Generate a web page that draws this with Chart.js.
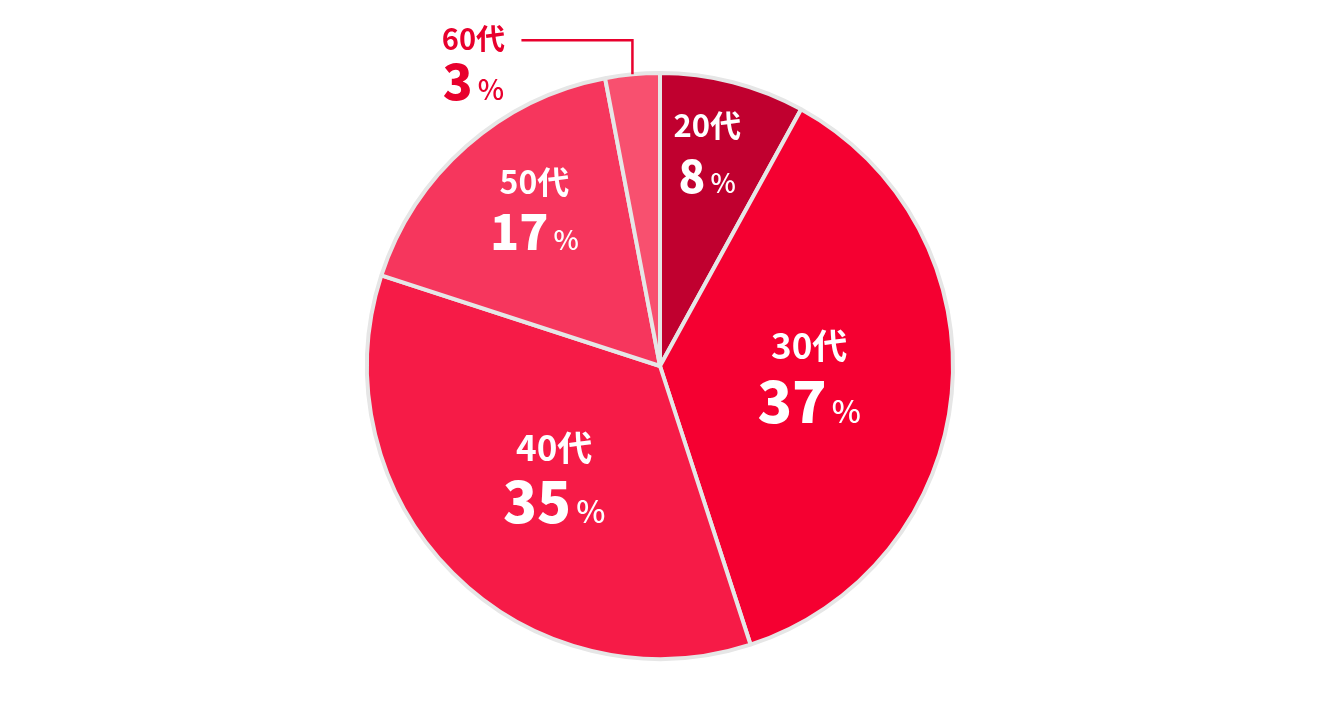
<!DOCTYPE html>
<html lang="ja">
<head>
<meta charset="utf-8">
<script src="https://cdn.jsdelivr.net/npm/chart.js@4"></script>
<style>
  html, body { margin: 0; padding: 0; background: #fff; }
  #wrap { width: 1320px; height: 720px; }
</style>
</head>
<body>
<div id="wrap"><canvas id="ageChart"></canvas></div>
<script>
const labels = ['20代', '30代', '40代', '50代', '60代'];
const values = [8, 37, 35, 17, 3];
const colors = ['#c0002f', '#f50031', '#f61b47', '#f6365d', '#f8506f'];

// per-slice label look: radius factor, angle tweak (deg), font sizes, gap between the two lines
const labelStyles = [
    { r: 0.75, da: -2, label: 31, num: 44, pct: 27, gap: 52 },
    { r: 0.51, da: -2, label: 35, num: 57, pct: 31, gap: 56 },
    { r: 0.52, da: -1, label: 35, num: 56, pct: 31, gap: 55 },
    { r: 0.69, da: 3, label: 32, num: 48, pct: 27, gap: 51 },
    { outside: true, label: 29, num: 49, pct: 28, gap: 43 }
];

const FONT = '"Noto Sans CJK JP", "Noto Sans", sans-serif';
const RED = '#e8002d';

function drawBlock(c, x, y, st, label, value, color) {
    c.fillStyle = color;
    c.textBaseline = 'alphabetic';
    c.textAlign = 'center';
    c.font = 'bold ' + st.label + 'px ' + FONT;
    c.fillText(label, x, y - st.gap / 2 + st.label * 0.36);

    const base = y + st.gap / 2 + st.num * 0.36;
    const numTxt = String(value);
    c.font = '900 ' + st.num + 'px ' + FONT;
    const nw = c.measureText(numTxt).width;
    c.font = '500 ' + st.pct + 'px ' + FONT;
    const pw = c.measureText('%').width;
    const sp = 5;
    const left = x - (nw + sp + pw) / 2;
    c.textAlign = 'left';
    c.font = '900 ' + st.num + 'px ' + FONT;
    c.fillText(numTxt, left, base);
    c.font = '500 ' + st.pct + 'px ' + FONT;
    c.fillText('%', left + nw + sp, base);
}

const sliceLabels = {
    id: 'sliceLabels',
    afterDatasetsDraw(chart) {
        const c = chart.ctx;
        const meta = chart.getDatasetMeta(0);
        c.save();
        meta.data.forEach((arc, i) => {
            const st = labelStyles[i];
            const mid = (arc.startAngle + arc.endAngle) / 2;
            if (st.outside) {
                const sx = arc.x + Math.cos(mid) * arc.outerRadius;
                const sy = arc.y + Math.sin(mid) * arc.outerRadius;
                const topY = sy - 34;
                const endX = sx - 111;
                c.strokeStyle = RED;
                c.lineWidth = 2.5;
                c.beginPath();
                c.moveTo(sx, sy);
                c.lineTo(sx, topY);
                c.lineTo(endX, topY);
                c.stroke();
                drawBlock(c, endX - 48, topY + 21, st, labels[i], values[i], RED);
            } else {
                const a = mid + st.da * Math.PI / 180;
                const rr = arc.outerRadius * st.r;
                drawBlock(c, arc.x + Math.cos(a) * rr, arc.y + Math.sin(a) * rr, st, labels[i], values[i], '#ffffff');
            }
        });
        c.restore();
    }
};

const ctx = document.getElementById('ageChart').getContext('2d');
const ageChart = new Chart(ctx, {
    type: 'pie',
    data: {
        labels: labels,
        datasets: [{
            data: values,
            backgroundColor: colors,
            borderColor: '#e6e6e6',
            borderWidth: 4,
            hoverOffset: 0
        }]
    },
    options: {
        responsive: true,
        maintainAspectRatio: false,
        animation: false,
        layout: {
            padding: { top: 71, bottom: 59 }
        },
        plugins: {
            legend: { display: false },
            tooltip: { enabled: false }
        }
    },
    plugins: [sliceLabels]
});
</script>
</body>
</html>
